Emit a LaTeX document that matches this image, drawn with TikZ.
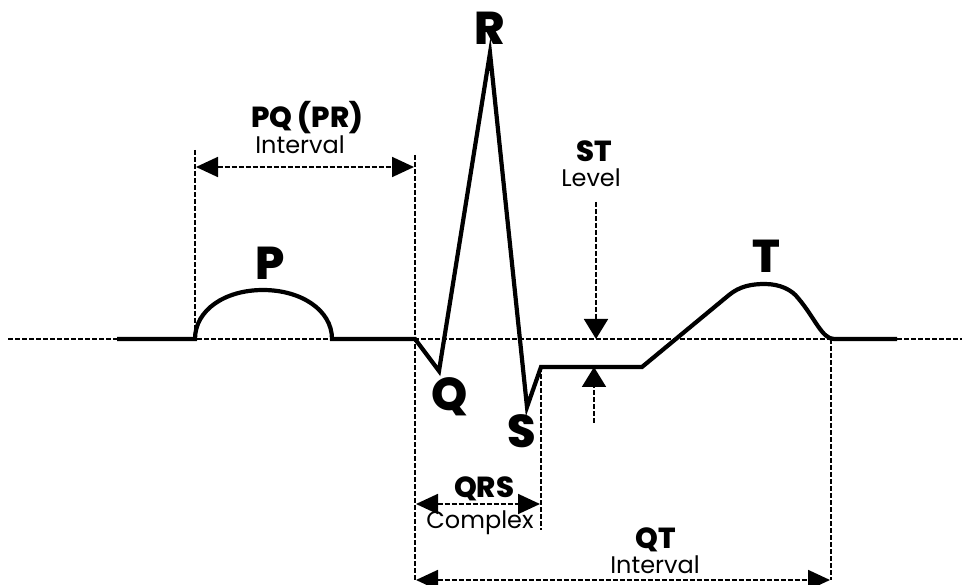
\documentclass[tikz,border=0pt]{standalone}
\usepackage{fontspec}
\setmainfont{Poppins}[BoldFont={Poppins ExtraBold}]
\usetikzlibrary{arrows.meta}
\tikzset{
  trace/.style={line width=4.2pt, line join=miter, black},
  guide/.style={line width=1.8pt, dash pattern=on 5pt off 2pt, black},
  dim/.style={guide, {Triangle[length=22pt,width=20pt]}-{Triangle[length=22pt,width=20pt]}},
  pointer/.style={guide, -{Triangle[length=20pt,width=24pt]}},
  wave/.style={font=\fontsize{46}{46}\selectfont\bfseries, anchor=base, inner sep=0pt},
  head/.style={font=\fontsize{29}{29}\selectfont\bfseries, anchor=base, inner sep=0pt},
  sub/.style={font=\fontsize{24}{24}\selectfont, anchor=base, inner sep=0pt},
}
\begin{document}
\begin{tikzpicture}[x=1pt,y=-1pt]
\useasboundingbox (0,0) rectangle (962,585);
% baseline
\coordinate (bl0) at (8,339);
\coordinate (bl1) at (962,339);
\draw[guide] (bl0) -- (bl1);
% trace points
\coordinate (start) at (117,339);
\coordinate (pon) at (195,339);
\coordinate (ppk) at (263,290);
\coordinate (poff) at (332,339);
\coordinate (qon) at (415,339);
\coordinate (qpt) at (439,371);
\coordinate (rpt) at (490,53);
\coordinate (spt) at (527,407);
\coordinate (jpt) at (541,367);
\coordinate (stend) at (642,367);
\coordinate (ton) at (729,295);
\coordinate (tpk) at (765,284);
\coordinate (tdn) at (798,298);
\coordinate (toff) at (834,339);
\coordinate (fin) at (897,339);
\draw[trace] (start) -- (pon)
  .. controls (195,310) and (225,290) .. (ppk)
  .. controls (301,290) and (332,310) .. (poff)
  -- (qon) -- (qpt) -- (rpt) -- (spt) -- (jpt) -- (stend) -- (ton)
  .. controls (740,286) and (752,284) .. (tpk)
  .. controls (780,284) and (792,290) .. (tdn)
  .. controls (815,318) and (822,339) .. (toff) -- (fin);
% guide verticals
\coordinate (pqtop) at (195,150);
\coordinate (qtop) at (415,155);
\coordinate (qbot) at (415,580);
\coordinate (stop) at (541,367);
\coordinate (sbot) at (541,530);
\coordinate (ttop) at (831,339);
\coordinate (tbot) at (831,580);
\draw[guide] (pqtop) -- (pon);
\draw[guide] (qtop) -- (qbot);
\draw[guide] (stop) -- (sbot);
\draw[guide] (ttop) -- (tbot);
% dimension arrows
\coordinate (pqa) at (196,167);
\coordinate (pqb) at (414,167);
\draw[dim] (pqa) -- (pqb);
\coordinate (qrsa) at (416,504);
\coordinate (qrsb) at (540,504);
\draw[dim] (qrsa) -- (qrsb);
\coordinate (qta) at (416,580);
\coordinate (qtb) at (830,580);
\draw[dim] (qta) -- (qtb);
% ST level pointers
\coordinate (sttop) at (596,202);
\coordinate (sttip) at (596,339);
\draw[pointer] (sttop) -- (sttip);
\coordinate (stbot) at (594,423);
\coordinate (sttip2) at (594,367);
\draw[pointer] (stbot) -- (sttip2);
% labels
\node[wave] (lP) at (270,280) {P};
\node[wave] (lR) at (490,45) {R};
\node[wave] (lQ) at (450,410) {Q};
\node[wave] (lS) at (522,447) {S};
\node[wave] (lT) at (766,273) {T};
\node[head] (lPQ) at (307,128) {PQ (PR)};
\node[sub] (lPQi) at (300,154) {Interval};
\node[head] (lST) at (594,162) {ST};
\node[sub] (lSTl) at (591,187) {Level};
\node[head] (lQRS) at (484,497) {QRS};
\node[sub] (lQRSc) at (480,528) {Complex};
\node[head] (lQT) at (656,548) {QT};
\node[sub] (lQTi) at (655,573) {Interval};
\end{tikzpicture}
\end{document}
